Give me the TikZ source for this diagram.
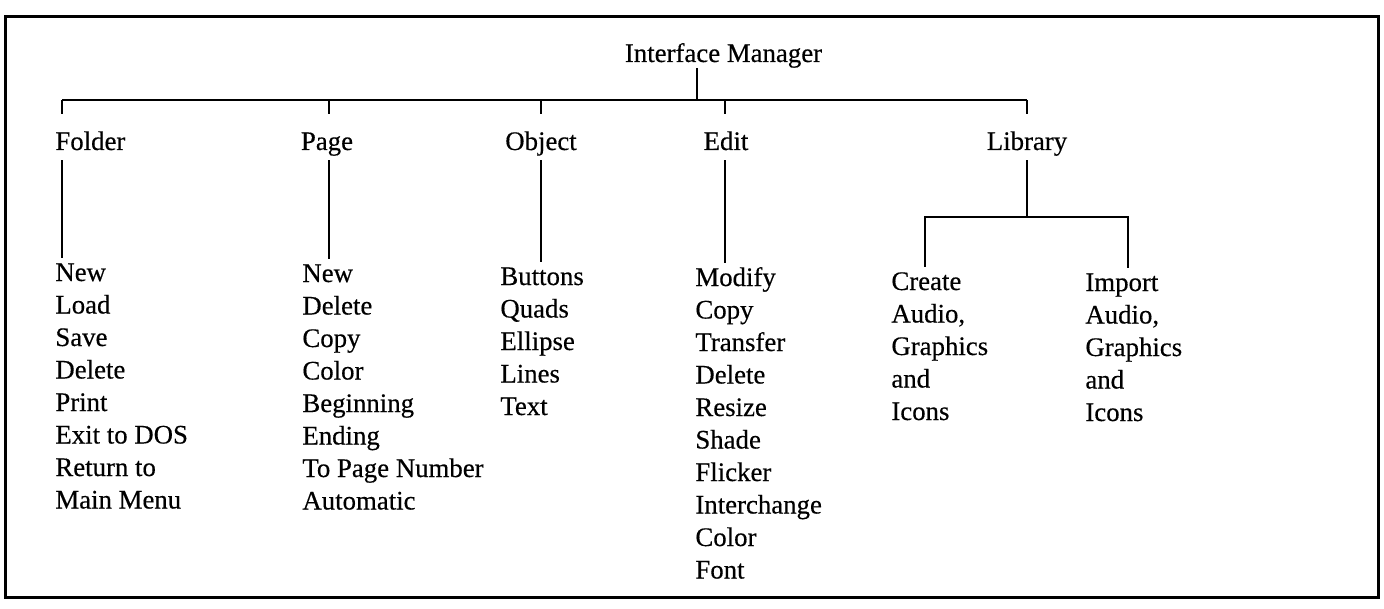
\documentclass[tikz,border=0pt]{standalone}
\usepackage{fontspec}
\setmainfont[FakeBold=0.4]{Liberation Serif}
\tikzset{
    wire/.style = {line width = 1pt},
    head/.style = {text height = 13pt, text depth = 0pt, inner ysep = 5pt, anchor = base},
    items/.style = {anchor = base west}
}
\newcommand{\itemlist}[1]{\begin{tabular}[t]{@{}l@{}}#1\end{tabular}}
\begin{document}
\begin{tikzpicture}[x = 0.5pt, y = -0.5pt,
        every node/.style = {font = \fontsize{13.4}{16.25}\selectfont, inner sep = 0pt}]
    \useasboundingbox (0,0) rectangle (1384,609);
    \draw[line width = 1.5pt] (5,17) rectangle (1378,597);
    % top of the tree
    \node[anchor = base] (root) at (723.5,62) {Interface Manager};
    \coordinate (hub) at (697,100);
    \coordinate (bFolder) at (62,100);
    \coordinate (bPage) at (329,100);
    \coordinate (bObject) at (541,100);
    \coordinate (bEdit) at (725,100);
    \coordinate (bLibrary) at (1027,100);
    \draw[wire] (hub |- root.south) -- (hub);
    \draw[wire] (bFolder) -- (bLibrary);
    % menus
    \node[head, anchor = base west] (folder) at (55,150) {Folder};
    \node[head] (page) at (327,150) {Page};
    \node[head] (object) at (541,150) {Object};
    \node[head] (edit) at (726,150) {Edit};
    \node[head] (library) at (1027,150) {Library};
    \foreach \b/\n in {bFolder/folder, bPage/page, bObject/object, bEdit/edit, bLibrary/library}
        \draw[wire] (\b) -- (\b |- \n.north);
    % menu entries
    \node[items] (folderItems) at (55,281) {\itemlist{New\\ Load\\ Save\\ Delete\\ Print\\ Exit to DOS\\ Return to\\ Main Menu}};
    \node[items] (pageItems) at (302,282) {\itemlist{New\\ Delete\\ Copy\\ Color\\ Beginning\\ Ending\\ To Page Number\\ Automatic}};
    \node[items] (objectItems) at (500,285) {\itemlist{Buttons\\ Quads\\ Ellipse\\ Lines\\ Text}};
    \node[items] (editItems) at (695,286) {\itemlist{Modify\\ Copy\\ Transfer\\ Delete\\ Resize\\ Shade\\ Flicker\\ Interchange\\ Color\\ Font}};
    \node[items] (createItems) at (891,290) {\itemlist{Create\\ Audio,\\ Graphics\\ and\\ Icons}};
    \node[items] (importItems) at (1085,291) {\itemlist{Import\\ Audio,\\ Graphics\\ and\\ Icons}};
    \foreach \b/\n/\m in {bFolder/folder/folderItems, bPage/page/pageItems, bObject/object/objectItems, bEdit/edit/editItems}
        \draw[wire] (\b |- \n.south) -- (\b |- \m.north);
    % library split
    \coordinate (bCreate) at (925,217);
    \coordinate (bImport) at (1128,217);
    \draw[wire] (library.south) -- (library.south |- bCreate);
    \draw[wire] (bCreate |- createItems.north) -- (bCreate) -- (bImport) -- (bImport |- importItems.north);
\end{tikzpicture}
\end{document}
